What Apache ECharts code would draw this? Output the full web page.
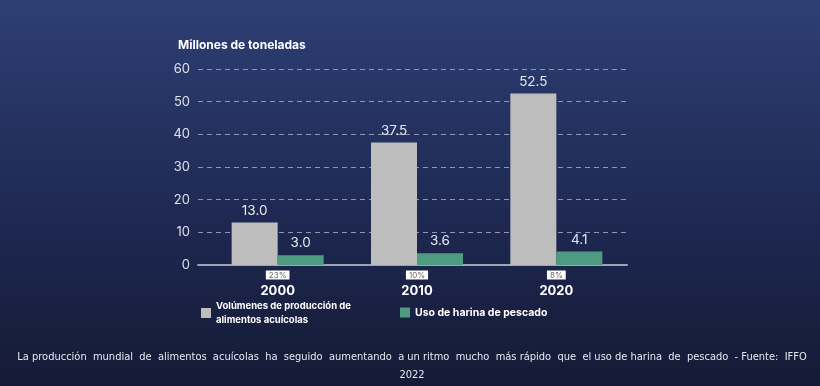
<!DOCTYPE html>
<html><head><meta charset="utf-8">
<script src="https://cdn.jsdelivr.net/npm/echarts@6/dist/echarts.min.js"></script>
<style>html,body{margin:0;padding:0;}#c{width:820px;height:386px;}</style>
</head><body><div id="c"></div>
<script>
const categories = ['2000', '2010', '2020'];
const produccion = [13.0, 37.5, 52.5];
const harina = [3.0, 3.6, 4.1];
const porcentajes = ['23%', '10%', '8%'];
const yTicks = [0, 10, 20, 30, 40, 50, 60];
const serieNames = ['Volúmenes de producción de\nalimentos acuícolas', 'Uso de harina de pescado'];
const caption = 'La producción  mundial  de  alimentos  acuícolas  ha  seguido  aumentando  a un ritmo  mucho  más rápido  que  el uso de harina  de  pescado  - Fuente:  IFFO\n2022';

const chart = echarts.init(document.getElementById('c'));
chart.setOption({
  backgroundColor: new echarts.graphic.LinearGradient(0, 0, 0, 1, [
    {offset: 0, color: '#2e3f74'},
    {offset: 0.6, color: '#1d2750'},
    {offset: 1, color: '#151b35'}
  ]),
  animation: false,
  title: [{
    text: 'Millones de toneladas', left: 173, top: 34,
    textStyle: {color: '#ffffff', fontSize: 12, fontWeight: 'bold', fontFamily: 'Inter'}
  }],
  graphic: [{
    type: 'text', x: 412, y: 348,
    style: {
      text: caption, fill: '#e8e8ee', fontSize: 11, lineHeight: 18, align: 'center', verticalAlign: 'top',
      fontFamily: "'DejaVu Sans Condensed', 'Liberation Sans Narrow', 'Noto Sans', sans-serif"
    }
  }],
  legend: [{
    data: [serieNames[0]], left: 196, top: 294, itemWidth: 10, itemHeight: 10, itemGap: 8,
    icon: 'rect',
    textStyle: {color: '#ffffff', fontSize: 9.5, fontWeight: 'bold', fontFamily: 'Inter', lineHeight: 14}
  }, {
    data: [serieNames[1]], left: 395, top: 302, itemWidth: 10, itemHeight: 10,
    icon: 'rect',
    textStyle: {color: '#ffffff', fontSize: 10.5, fontWeight: 'bold', fontFamily: 'Inter'}
  }],
  grid: [
    {left: 198, right: 193, top: 69, bottom: 121},
    {left: 208, right: 194, top: 69, bottom: 121}
  ],
  xAxis: [{
    gridIndex: 0, type: 'value', min: 0, max: 1, show: true,
    axisLine: {show: true, onZero: false, lineStyle: {color: '#9ca4ba', width: 2}},
    axisTick: {show: false}, axisLabel: {show: false}, splitLine: {show: false}
  }, {
    gridIndex: 1, type: 'category', data: categories,
    axisLine: {show: false}, axisTick: {show: false},
    axisLabel: {
      margin: 5,
      formatter: (v, i) => '{pct|' + porcentajes[i] + '}\n{yr|' + v + '}',
      rich: {
        pct: {backgroundColor: '#ffffff', color: '#666666', fontSize: 8, padding: [1, 3, 0, 3], lineHeight: 10, fontFamily: 'Inter'},
        yr: {color: '#ffffff', fontSize: 13, fontWeight: 'bold', fontFamily: 'Inter', lineHeight: 18, verticalAlign: 'bottom'}
      }
    }
  }],
  yAxis: [{
    gridIndex: 0, type: 'value', min: yTicks[0], max: yTicks[yTicks.length - 1], interval: 10,
    axisLine: {show: false}, axisTick: {show: false},
    axisLabel: {color: '#dde1ea', fontSize: 13, margin: 8, fontFamily: 'Inter'},
    splitLine: {show: true, lineStyle: {color: '#8d96b4', type: [5, 4], width: 1}}
  }, {
    gridIndex: 1, type: 'value', min: yTicks[0], max: yTicks[yTicks.length - 1], interval: 10,
    show: false, splitLine: {show: false}
  }],
  series: [{
    name: serieNames[0], type: 'bar', xAxisIndex: 1, yAxisIndex: 1,
    data: produccion, barWidth: 46, barGap: '0%',
    itemStyle: {color: '#bdbdbd'},
    label: {show: true, position: 'top', distance: 5, color: '#e8e8ec', fontSize: 13.5, fontFamily: 'Inter', formatter: p => p.value.toFixed(1)}
  }, {
    name: serieNames[1], type: 'bar', xAxisIndex: 1, yAxisIndex: 1,
    data: harina, barWidth: 46, barGap: '0%',
    itemStyle: {color: '#4f9b82'},
    label: {show: true, position: 'top', distance: 5, color: '#e8e8ec', fontSize: 13.5, fontFamily: 'Inter', formatter: p => p.value.toFixed(1)}
  }]
});
</script></body></html>
